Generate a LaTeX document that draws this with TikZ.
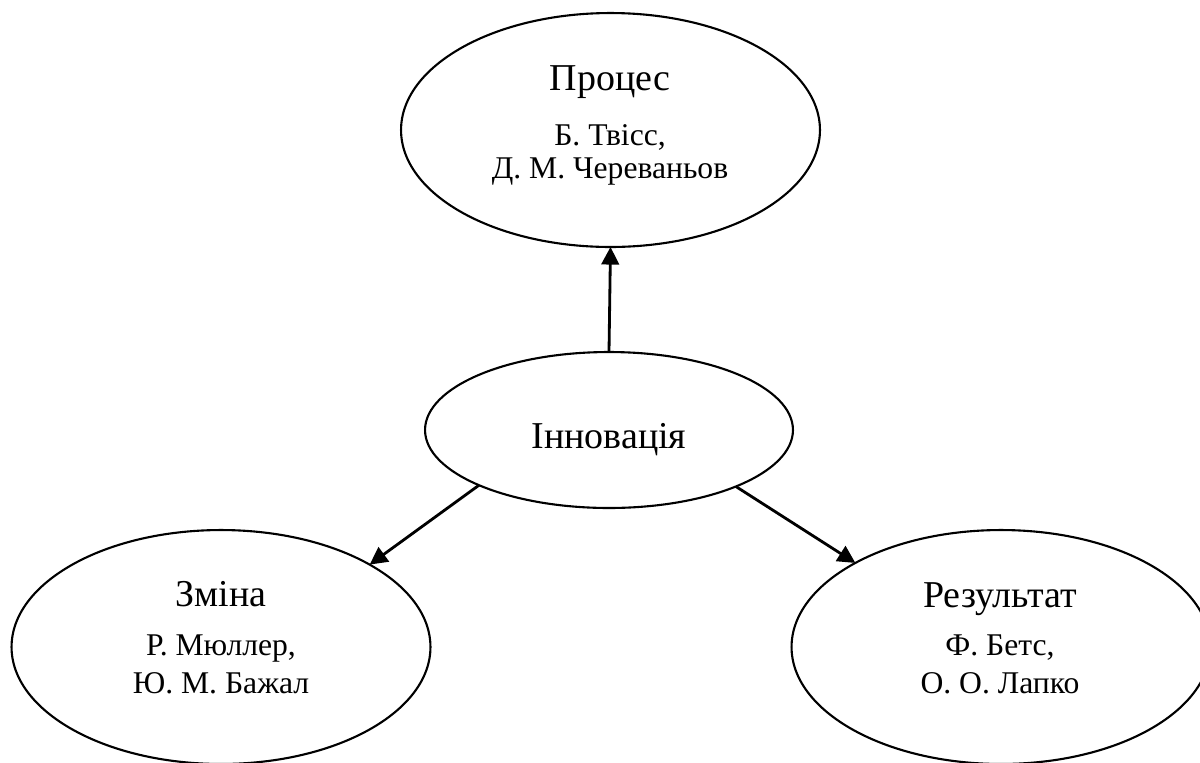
\documentclass[tikz,border=0pt]{standalone}
\usepackage{fontspec}
\setmainfont{Liberation Serif}
\usetikzlibrary{shapes.geometric,arrows.meta}
\tikzset{
  bigell/.style={ellipse,draw,line width=1.2pt,inner sep=0pt,outer sep=0pt,minimum width=8.38cm,minimum height=4.68cm},
  midell/.style={ellipse,draw,line width=1.2pt,inner sep=0pt,outer sep=0pt,minimum width=7.36cm,minimum height=3.12cm},
  ttl/.style={anchor=base,inner sep=0pt,font=\fontsize{21.6}{26}\selectfont},
  sub/.style={anchor=base,inner sep=0pt,font=\fontsize{18}{22}\selectfont},
  conn/.style={line width=1.6pt,-{Triangle[length=10pt,width=10pt]}}
}
\begin{document}
\begin{tikzpicture}[x={(0.02cm,0)},y={(0,-0.02cm)}]
\useasboundingbox (0,0) rectangle (1200,762);
\node[bigell] (proc) at (610.5,130) {};
\node[midell] (inn) at (609,430) {};
\node[bigell] (zm) at (221,647) {};
\node[bigell] (res) at (1001,647) {};

\node[ttl] (t1) at (610,90) {Процес};
\node[sub] (t1a) at (610,145) {Б. Твісс,};
\node[sub] (t1b) at (610,178) {Д. М. Череваньов};

\node[ttl] (t2) at (609,448) {Інновація};

\node[ttl] (t3) at (221,606) {Зміна};
\node[sub] (t3a) at (221,655) {Р. Мюллер,};
\node[sub] (t3b) at (221,693) {Ю. М. Бажал};

\node[ttl] (t4) at (1000,607) {Результат};
\node[sub] (t4a) at (1000,655) {Ф. Бетс,};
\node[sub] (t4b) at (1000,693) {О. О. Лапко};

\draw[conn] (inn.north) -- (proc.south);
\draw[conn] (inn.203.1) -- (zm.29.4);
\draw[conn] (inn.336.9) -- (res.150.6);
\end{tikzpicture}
\end{document}
